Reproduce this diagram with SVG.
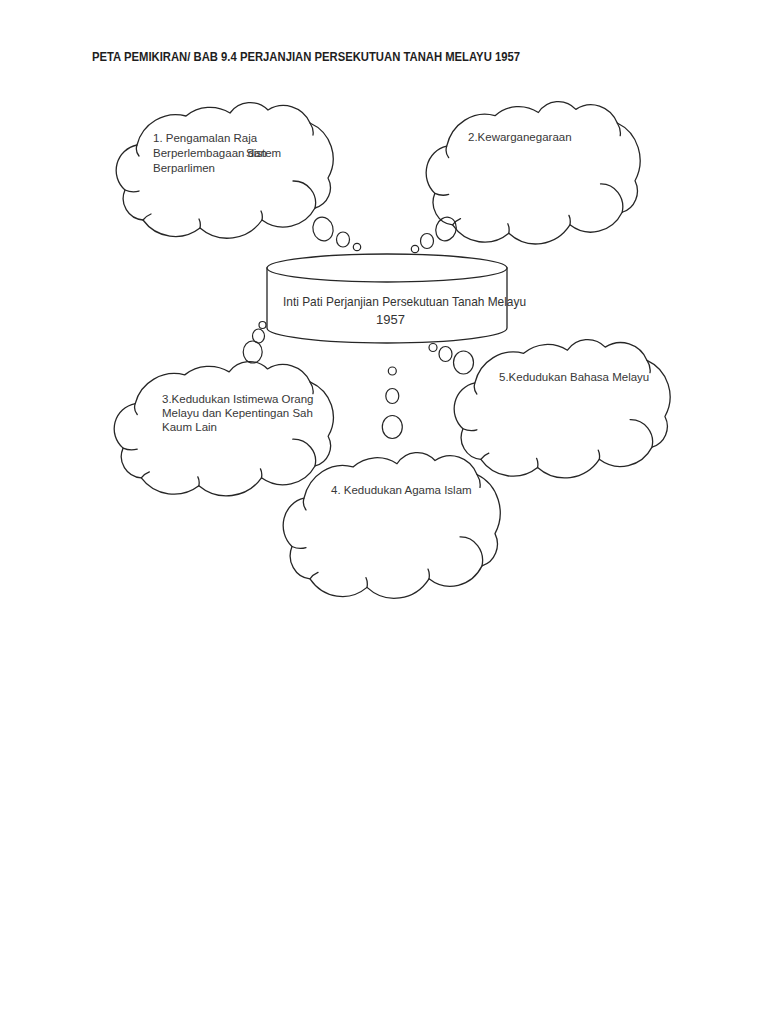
<svg xmlns="http://www.w3.org/2000/svg" xmlns:xlink="http://www.w3.org/1999/xlink" width="768" height="1024" viewBox="0 0 768 1024">
<style>
.ln{fill:none;stroke:#262626;stroke-width:1.3;vector-effect:non-scaling-stroke;stroke-linejoin:round;stroke-linecap:round}
.cyl{fill:#ffffff;stroke:#262626;stroke-width:1.3}
.bub{fill:none;stroke:#262626;stroke-width:1.2}
.t{font-family:"Liberation Sans",Arial,sans-serif;font-size:11.5px;fill:#383838}
.ct{font-family:"Liberation Sans",Arial,sans-serif;font-size:13px;fill:#333333}
.title{font-family:"Liberation Sans",Arial,sans-serif;font-size:12.5px;font-weight:bold;fill:#1e1e1e}
</style>
<defs>
<g id="cloud">
<path class="ln" d="M22,42 A40,40 0 0 1 71,13 A38,38 0 0 1 115,10 A25,25 0 0 1 153,7 A29,29 0 0 1 195,20 A39,39 0 0 1 213,75 A21,21 0 0 1 200,105 A36,36 0 0 1 147,117 A42,42 0 0 1 85,125 A40,40 0 0 1 28,117 A21.5,21.5 0 0 1 10,87 A26,26 0 0 1 22,42 Z"/>
<path class="ln" d="M22,42 Q20,48 24,53 M10,87 Q17,90 24,88 M28,117 Q31,113 36,111 M85,125 Q86,120 84,116 M147,117 Q148,112 146,108 M178,78 A22,22 0 0 1 200,105 M195,20 Q199,26 198,32"/>
</g>
</defs>
<rect width="768" height="1024" fill="#ffffff"/>
<text class="title" x="92" y="61" textLength="428" lengthAdjust="spacingAndGlyphs">PETA PEMIKIRAN/ BAB 9.4 PERJANJIAN PERSEKUTUAN TANAH MELAYU 1957</text>

<g id="node-1">
<use xlink:href="#cloud" transform="translate(115,103)"/>
<text class="t" x="153" y="142">1. Pengamalan Raja</text>
<text class="t" x="153" y="157">Berperlembagaan <tspan>dan</tspan><tspan dx="-20.8">Sistem</tspan></text>
<text class="t" x="153" y="172">Berparlimen</text>
</g>

<g id="node-2">
<use xlink:href="#cloud" transform="translate(425,102) scale(0.986,1.05)"/>
<text class="t" x="468" y="141">2.Kewarganegaraan</text>
</g>

<g id="node-3">
<use xlink:href="#cloud" transform="translate(113,362) scale(1.01,0.99)"/>
<text class="t" x="162" y="403">3.Kedudukan Istimewa Orang</text>
<text class="t" x="162" y="417">Melayu dan Kepentingan Sah</text>
<text class="t" x="162" y="431">Kaum Lain</text>
</g>

<g id="node-5">
<use xlink:href="#cloud" transform="translate(453,340) scale(0.995,1.02)"/>
<text class="t" x="499" y="381">5.Kedudukan Bahasa Melayu</text>
</g>

<g id="node-4">
<use xlink:href="#cloud" transform="translate(282,453) scale(1,1.075)"/>
<text class="t" x="331" y="494">4. Kedudukan Agama Islam</text>
</g>

<g id="center">
<path class="cyl" d="M267,268 L267,328 A120,15 0 0 0 507,328 L507,268 Z"/>
<ellipse class="cyl" cx="387" cy="268" rx="120" ry="14"/>
<text class="ct" x="283" y="306" textLength="243" lengthAdjust="spacingAndGlyphs">Inti Pati Perjanjian Persekutuan Tanah Melayu</text>
<text class="ct" x="390.5" y="324" text-anchor="middle">1957</text>
</g>

<g id="connectors">
<ellipse class="bub" cx="323" cy="229" rx="10" ry="12" transform="rotate(-15 323 229)"/>
<ellipse class="bub" cx="343" cy="239.5" rx="6.5" ry="7.5"/>
<circle class="bub" cx="357" cy="247" r="3.7"/>
<ellipse class="bub" cx="446" cy="229" rx="10" ry="12" transform="rotate(20 446 229)"/>
<ellipse class="bub" cx="427" cy="241" rx="6.5" ry="7.5"/>
<circle class="bub" cx="415" cy="249" r="3.7"/>
<ellipse class="bub" cx="252.7" cy="352" rx="9.5" ry="11"/>
<ellipse class="bub" cx="258.5" cy="336" rx="6" ry="7"/>
<circle class="bub" cx="262.5" cy="325" r="3.5"/>
<ellipse class="bub" cx="463.5" cy="362.5" rx="10" ry="11.5"/>
<ellipse class="bub" cx="445.5" cy="354" rx="6.5" ry="7.5"/>
<circle class="bub" cx="433" cy="347.5" r="4"/>
<ellipse class="bub" cx="392.3" cy="427" rx="10" ry="11.5"/>
<ellipse class="bub" cx="392.3" cy="396" rx="6.5" ry="7.5"/>
<circle class="bub" cx="392.3" cy="371" r="4"/>
</g>
</svg>
